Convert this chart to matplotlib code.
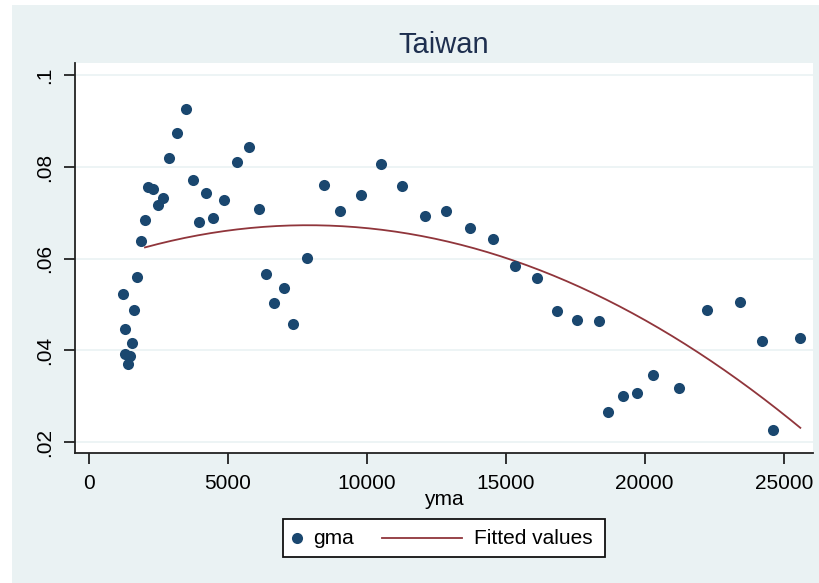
import numpy as np
import matplotlib
matplotlib.use("Agg")
import matplotlib.pyplot as plt
from matplotlib.patches import Rectangle
from matplotlib.lines import Line2D

# yma (x) and gma (y) by observation
yma = [1234, 1306, 1310, 1420, 1490, 1568, 1640, 1737, 1881, 2025,
       2144, 2324, 2482, 2685, 2888, 3165, 3500, 3752, 3978, 4219,
       4482, 4878, 5335, 5755, 6115, 6378, 6678, 7036, 7338, 7842,
       8476, 9052, 9806, 10515, 11281, 12086, 12863, 13716, 14532, 15335,
       16126, 16834, 17554, 18345, 18691, 19231, 19712, 20310, 21223, 22252,
       23417, 24230, 24615, 25598]
gma = [.0524, .0447, .0393, .0371, .0387, .0417, .0488, .0560, .0638, .0685,
       .0757, .0753, .0717, .0733, .0819, .0874, .0926, .0772, .0681, .0743,
       .0688, .0727, .0812, .0843, .0709, .0566, .0504, .0536, .0457, .0602,
       .0760, .0703, .0738, .0807, .0758, .0693, .0703, .0666, .0643, .0585,
       .0557, .0485, .0467, .0465, .0266, .0301, .0307, .0347, .0317, .0488,
       .0505, .0420, .0227, .0427]

# fitted line is only shown from here on
fit_from = 2000

xticks = [0, 5000, 10000, 15000, 20000, 25000]
yticks = [.02, .04, .06, .08, .1]
ylabels = [".02", ".04", ".06", ".08", ".1"]

navy = "#1a476f"
maroon = "#90353b"
bg = "#eaf2f3"

# quadratic fit of gma on yma
x = np.array(yma, dtype=float)
y = np.array(gma)
coef = np.polyfit(x, y, 2)
sel = x >= fit_from
xf = np.linspace(x[sel].min(), x[sel].max(), 200)
yf = np.polyval(coef, xf)

plt.rcParams["font.family"] = ["Liberation Sans", "DejaVu Sans"]

W, H = 820, 583
fig = plt.figure(figsize=(W / 100, H / 100), dpi=100, facecolor="white")
fig.patches.append(Rectangle((12 / W, 0), 1, 1 - 5 / H, transform=fig.transFigure,
                             facecolor=bg, edgecolor="none", zorder=-10))

ax = fig.add_axes([75 / W, 1 - 453 / H, 738 / W, 390 / H])
ax.set_facecolor("white")
for yt in yticks:
    ax.axhline(yt, color=bg, lw=1.2, zorder=0)

ax.plot(x, y, "o", color=navy, markersize=8, markeredgewidth=0, zorder=3)
ax.plot(xf, yf, color=maroon, lw=1.3, zorder=2)

ax.set_xlim(-493, 26054)
ax.set_ylim(0.0176, 0.1027)
ax.set_xticks(xticks)
ax.set_xticklabels([str(t) for t in xticks])
ax.set_yticks(yticks)
ax.set_yticklabels(ylabels, rotation=90, va="center")
ax.tick_params(axis="both", length=8, width=1.3, color="#222222", labelsize=15, pad=7)

for s in ["top", "right"]:
    ax.spines[s].set_visible(False)
for s in ["left", "bottom"]:
    ax.spines[s].set_color("#222222")
    ax.spines[s].set_linewidth(1.3)

ax.set_xlabel("yma", fontsize=15, labelpad=-2)
ax.set_title("Taiwan", fontsize=21, color="#1e2f4f", pad=7)

# legend box below the axis, drawn in figure pixels
def px(xp, yp):
    return xp / W, 1 - yp / H

fig.patches.append(Rectangle(px(283, 557), 322 / W, 38 / H, transform=fig.transFigure,
                             facecolor="white", edgecolor="#111111", lw=1.3))
fig.add_artist(Line2D([px(297, 0)[0]], [px(0, 538)[1]], marker="o", ls="none",
                      color=navy, markersize=8, markeredgewidth=0,
                      transform=fig.transFigure))
fig.text(*px(313, 538), "gma", fontsize=15, va="center", ha="left")
fig.add_artist(Line2D([px(382, 0)[0], px(462, 0)[0]], [px(0, 538)[1]] * 2,
                      color=maroon, lw=1.3, transform=fig.transFigure))
fig.text(*px(474, 538), "Fitted values", fontsize=15, va="center", ha="left")

fig.savefig("out.png", dpi=100, facecolor=fig.get_facecolor())
